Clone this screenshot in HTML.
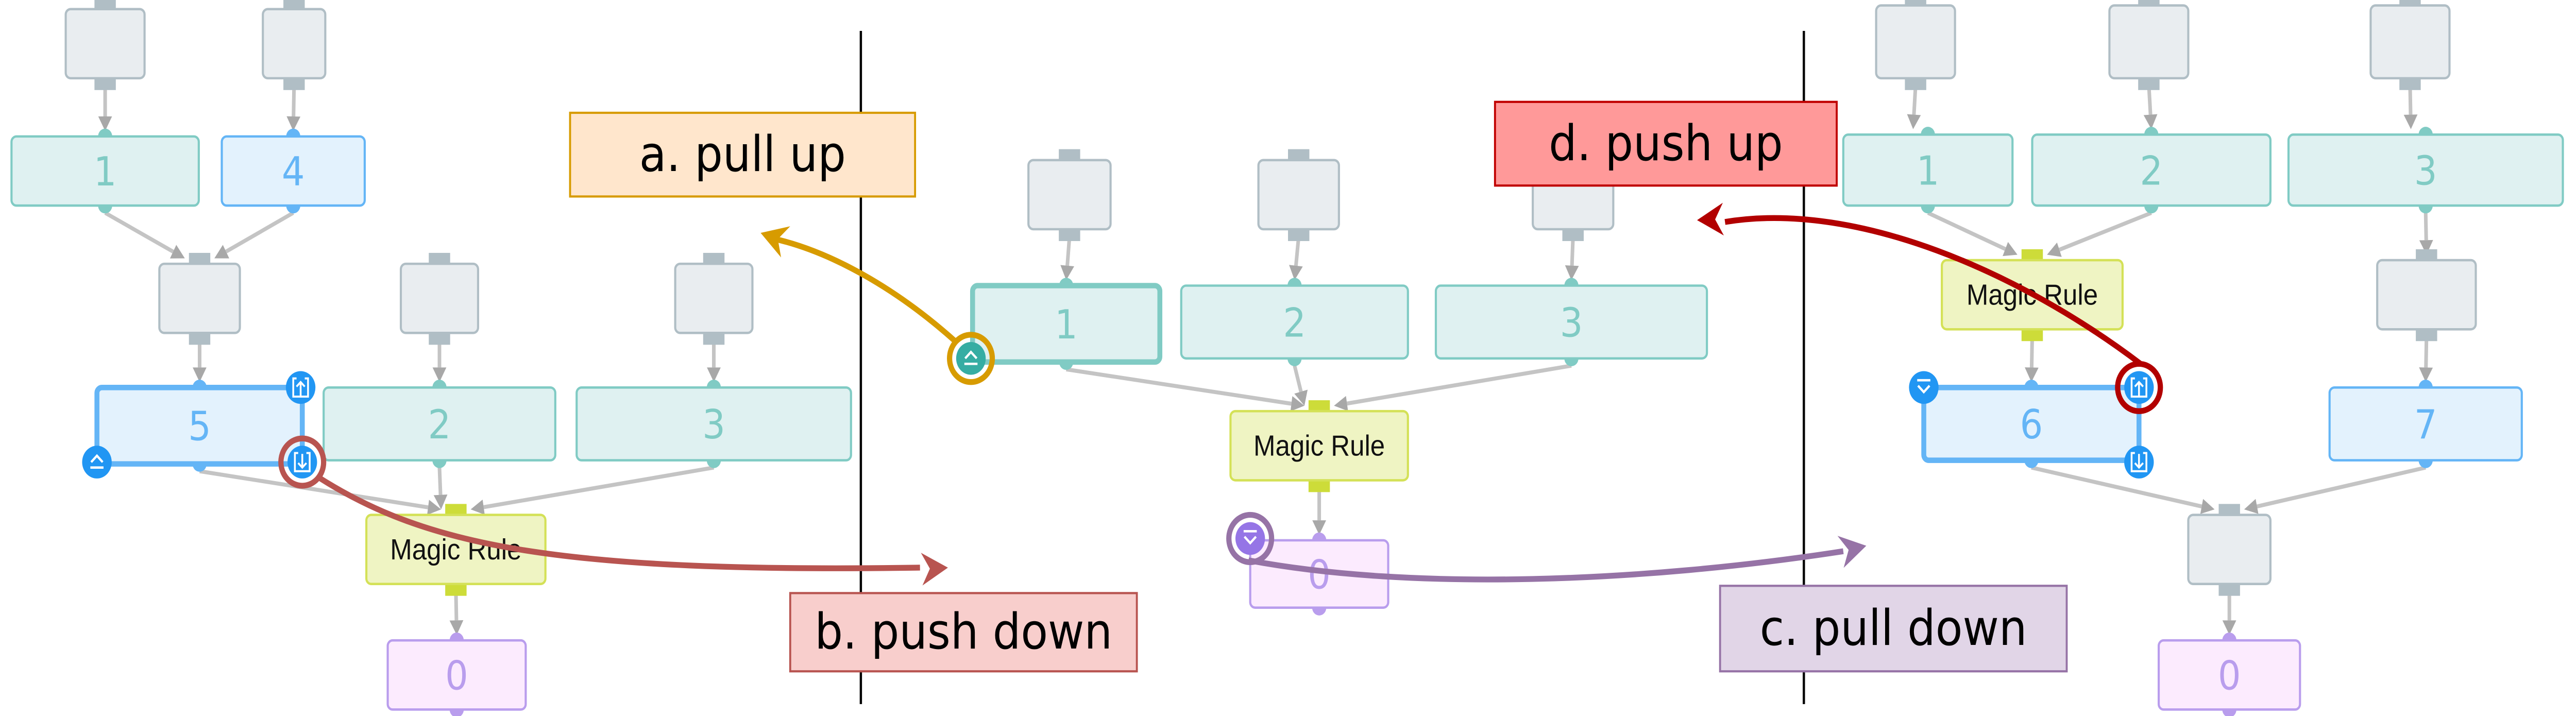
<!DOCTYPE html>
<html><head><meta charset="utf-8">
<style>
html,body{margin:0;padding:0;background:#fff;overflow:hidden;width:100%;height:100%;}
svg{display:block;width:100vw;height:100vh;}
</style></head>
<body>
<svg id="fig" xmlns="http://www.w3.org/2000/svg" viewBox="0 0 1568 393.56" preserveAspectRatio="none">
<rect width="1568" height="393.56" fill="#fff"/>
<g id="edges"></g>
<g id="nodes"></g>
<g id="over"></g>
</svg>
<script>
const NS='http://www.w3.org/2000/svg';
function mk(tag,attrs,parent,txt){const e=document.createElementNS(NS,tag);for(const k in attrs)e.setAttribute(k,attrs[k]);if(txt!==undefined)e.textContent=txt;parent.appendChild(e);return e;}
const E=document.getElementById('edges'),N=document.getElementById('nodes'),O=document.getElementById('over');
const STY={
 gray:{fill:'#e9edf0',stroke:'#b0bec5',txt:'#b0bec5',conn:'#b0bec5'},
 teal:{fill:'#dff1f1',stroke:'#80cbc4',txt:'#80cbc4',conn:'#80cbc4'},
 blue:{fill:'#e3f2fd',stroke:'#64b5f6',txt:'#64b5f6',conn:'#64b5f6'},
 magic:{fill:'#eff4c3',stroke:'#d4e157',txt:'#111',conn:'#cddc39'},
 purple:{fill:'#fcebfe',stroke:'#b99ded',txt:'#b99ded',conn:'#b99ded'}
};
const nodes={
 a_g1:['gray',40,5,88,43],a_g2:['gray',160,5,198,43],
 a_n1:['teal',7,75,121,113,'1'],a_n4:['blue',135,75,222,113,'4'],
 a_g3:['gray',97,145,146,183],a_g4:['gray',244,145,291,183],a_g5:['gray',411,145,458,183],
 a_n5:['blue',59,213,184,255,'5',1],a_n2:['teal',197,213,338,253,'2'],a_n3:['teal',351,213,518,253,'3'],
 a_m:['magic',223,283,332,321,'Magic Rule'],a_z:['purple',236,352,320,390,'0'],
 b_g1:['gray',626,88,676,126],b_g2:['gray',766,88,815,126],b_g3:['gray',933,88,982,126],
 b_n1:['teal',592,157,706,199,'1',1],b_n2:['teal',719,157,857,197,'2'],b_n3:['teal',874,157,1039,197,'3'],
 b_m:['magic',749,226,857,264,'Magic Rule'],b_z:['purple',761,297,845,334,'0'],
 c_g1:['gray',1142,3,1190,43],c_g2:['gray',1284,3,1332,43],c_g3:['gray',1443,3,1491,43],
 c_n1:['teal',1122,74,1225,113,'1'],c_n2:['teal',1237,74,1382,113,'2'],c_n3:['teal',1393,74,1560,113,'3'],
 c_m:['magic',1182,143,1292,181,'Magic Rule'],c_g4:['gray',1447,143,1507,181],
 c_n6:['blue',1171,213,1302,253,'6',1],c_n7:['blue',1418,213,1535,253,'7'],
 c_g5:['gray',1332,283,1382,321],c_z:['purple',1314,352,1400,390,'0']
};
const edges=[['a_g1','a_n1'],['a_g2','a_n4'],['a_n1','a_g3'],['a_n4','a_g3'],['a_g3','a_n5'],['a_g4','a_n2'],['a_g5','a_n3'],['a_n5','a_m'],['a_n2','a_m'],['a_n3','a_m'],['a_m','a_z'],
 ['b_g1','b_n1'],['b_g2','b_n2'],['b_g3','b_n3'],['b_n1','b_m'],['b_n2','b_m'],['b_n3','b_m'],['b_m','b_z'],
 ['c_g1','c_n1'],['c_g2','c_n2'],['c_g3','c_n3'],['c_n1','c_m'],['c_n2','c_m'],['c_m','c_n6'],['c_n3','c_g4'],['c_g4','c_n7'],['c_n6','c_g5'],['c_n7','c_g5'],['c_g5','c_z']];
function cx(n){return (n[1]+n[3])/2;}
edges.forEach(([s,t])=>{
 const a=nodes[s],b=nodes[t];
 const sx=cx(a),sy=a[4]+4;
 let tx=cx(b);const ty=b[2]-3;
 const dxs=sx-tx; if(Math.abs(dxs)>5) tx+=Math.sign(dxs)*9;
 const dx=tx-sx,dy=ty-sy,L=Math.hypot(dx,dy),ux=dx/L,uy=dy/L;
 const bx=tx-ux*8,by=ty-uy*8;
 const l=mk('line',{x1:sx,y1:sy,x2:bx,y2:by,stroke:'#c4c4c4','stroke-width':2.2},E);
 
 
 const p=mk('polygon',{points:`${tx},${ty} ${bx-uy*4.2},${by+ux*4.2} ${bx+uy*4.2},${by-ux*4.2}`,fill:'#a8a8a8'},E);
 
 
});
for(const id in nodes){
 const n=nodes[id],s=STY[n[0]];
 const g=mk('g',{},N);
 
 
 const c=cx(n);
 if(n[0]==='gray'||n[0]==='magic'){
   mk('rect',{x:c-6.5,y:n[2]-6,width:13,height:6,fill:s.conn},g);
   mk('rect',{x:c-6.5,y:n[4],width:13,height:6.5,fill:s.conn},g);
 } else {
   mk('ellipse',{cx:c,cy:n[2],rx:4.3,ry:4.3,fill:s.conn},g);
   mk('ellipse',{cx:c,cy:n[4],rx:4.3,ry:4.3,fill:s.conn},g);
 }
 const sw=n[6]?3:1.3;
 mk('rect',{x:n[1],y:n[2],width:n[3]-n[1],height:n[4]-n[2],rx:3,fill:s.fill,stroke:s.stroke,'stroke-width':sw},g);
 if(n[5]){
   const isM=n[0]==='magic';
   mk('text',{x:c,y:(n[2]+n[4])/2+(isM?5.5:8),'text-anchor':'middle',fill:s.txt,'font-size':isM?16:22,'font-family':isM?'"Liberation Sans Narrow","Liberation Sans",sans-serif':'"DejaVu Sans","Liberation Sans",sans-serif'},g,n[5]);
 }
}
[[524],[1098]].forEach(([x],i)=>{const l=mk('line',{x1:x,y1:17,x2:x,y2:387,stroke:'#000','stroke-width':1.4},O);
 
 });
function icon(x,y,col,kind,name){
 const g=mk('g',{},O);
 
 
 mk('circle',{cx:x,cy:y,r:9,fill:col},g);
 const w='#fff';
 if(kind==='eject'){mk('polyline',{points:`${x-3.5},${y} ${x},${y-3.5} ${x+3.5},${y}`,fill:'none',stroke:w,'stroke-width':1.3},g);mk('line',{x1:x-4,y1:y+3,x2:x+4,y2:y+3,stroke:w,'stroke-width':1.3},g);}
 if(kind==='drop'){mk('polyline',{points:`${x-3.5},${y-1} ${x},${y+2.5} ${x+3.5},${y-1}`,fill:'none',stroke:w,'stroke-width':1.3},g);mk('line',{x1:x-4,y1:y-4,x2:x+4,y2:y-4,stroke:w,'stroke-width':1.3},g);}
 if(kind==='up'||kind==='down'){mk('path',{d:`M${x-2.5},${y-5} H${x-4.5} V${y+5} H${x+4.5} V${y-5} H${x+2.5}`,fill:'none',stroke:w,'stroke-width':1.1},g);
   if(kind==='up'){mk('line',{x1:x,y1:y+4.5,x2:x,y2:y-3,stroke:w,'stroke-width':1.1},g);mk('polyline',{points:`${x-2.5},${y-0.5} ${x},${y-3} ${x+2.5},${y-0.5}`,fill:'none',stroke:w,'stroke-width':1.1},g);}
   else {mk('line',{x1:x,y1:y-4.5,x2:x,y2:y+3,stroke:w,'stroke-width':1.1},g);mk('polyline',{points:`${x-2.5},${y+0.5} ${x},${y+3} ${x+2.5},${y+0.5}`,fill:'none',stroke:w,'stroke-width':1.1},g);}}
}
icon(183,213,'#2196f3','up','push-up-button-5');
icon(184,254,'#2196f3','down','push-down-button-5');
icon(59,254,'#2196f3','eject','pull-up-button-5');
icon(591,197,'#36ada3','eject','pull-up-button-1');
icon(761,296,'#9575e6','drop','pull-down-button-0');
icon(1171,213,'#2196f3','drop','pull-down-button-6');
icon(1302,213,'#2196f3','up','push-up-button-6');
icon(1302,254,'#2196f3','down','push-down-button-6');
function arrow(d,hx,hy,ang,col,name,cx0,cy0){
 const g=mk('g',{},O);
 
 
 mk('circle',{cx:cx0,cy:cy0,r:13,fill:'none',stroke:col,'stroke-width':3.2},g);
 mk('path',{d:d,fill:'none',stroke:col,'stroke-width':3.2},g);
 const a=ang*Math.PI/180,ux=Math.cos(a),uy=Math.sin(a);
 const bx=hx-ux*16,by=hy-uy*16,nx=hx-ux*11,ny=hy-uy*11;
 mk('polygon',{points:`${hx},${hy} ${bx-uy*9},${by+ux*9} ${nx},${ny} ${bx+uy*9},${by-ux*9}`,fill:col},g);
}
arrow('M582,188 C545,158 505,138 470,131',463,128,198,'#d79b00','pull-up-arrow',591,197);
arrow('M195,263 C260,300 340,315 560,312',577,312,-3,'#b85450','push-down-arrow',184,254);
arrow('M760,308 C860,325 1000,320 1122,303',1136,300,-12,'#9673a6','pull-down-arrow',761,296);
arrow('M1303,200 C1230,150 1130,110 1050,122',1033,121,178,'#b20000','push-up-arrow',1302,213);
function label(x,y,w,h,fill,stroke,txt,name){
 const g=mk('g',{},O);
 
 
 mk('rect',{x:x,y:y,width:w,height:h,fill:fill,stroke:stroke,'stroke-width':1.2},g);
 mk('text',{x:x+w/2,y:y+h/2+9,'text-anchor':'middle','font-size':27,'font-family':'"DejaVu Sans","Liberation Sans",sans-serif',fill:'#000'},g,txt);
}
label(347,62,210,46,'#ffe6cc','#d79b00','a. pull up','label-pull-up');
label(481,326,211,43,'#f8cecc','#b85450','b. push down','label-push-down');
label(1047,322,211,47,'#e1d5e7','#9673a6','c. pull down','label-pull-down');
label(910,56,208,46,'#ff9999','#c00000','d. push up','label-push-up');
</script>
</body></html>
